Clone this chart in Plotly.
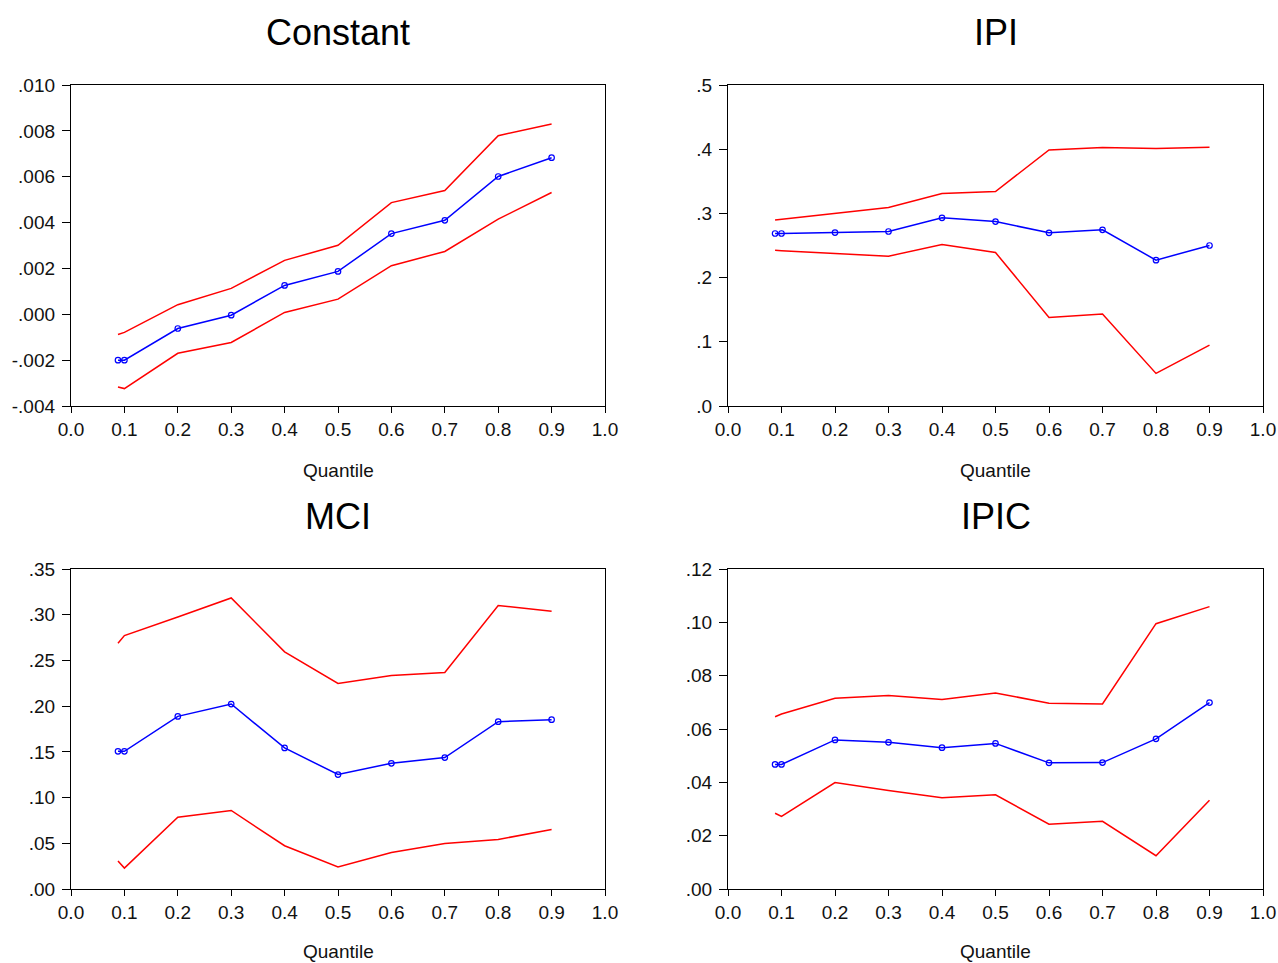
import plotly.graph_objects as go

quantiles = [0.088, 0.1, 0.2, 0.3, 0.4, 0.5, 0.6, 0.7, 0.8, 0.9]
x_ticks = [0.0, 0.1, 0.2, 0.3, 0.4, 0.5, 0.6, 0.7, 0.8, 0.9, 1.0]
x_ticktext = ["0.0", "0.1", "0.2", "0.3", "0.4", "0.5", "0.6", "0.7", "0.8", "0.9", "1.0"]

panel_titles = ["Constant", "IPI", "MCI", "IPIC"]

const_est = [-0.0020, -0.0020, -0.00062, -0.00004, 0.00126, 0.00187, 0.00352, 0.0041, 0.00601, 0.00683]
const_hi = [-0.00088, -0.00079, 0.00042, 0.00113, 0.00235, 0.00301, 0.00487, 0.0054, 0.00779, 0.0083]
const_lo = [-0.00317, -0.00324, -0.0017, -0.00123, 0.00008, 0.00066, 0.00212, 0.00274, 0.00415, 0.00531]
const_yticks = [-0.004, -0.002, 0.0, 0.002, 0.004, 0.006, 0.008, 0.010]
const_yticktext = ["-.004", "-.002", ".000", ".002", ".004", ".006", ".008", ".010"]

ipi_est = [0.2687, 0.2687, 0.2702, 0.2718, 0.2931, 0.2873, 0.2697, 0.2744, 0.2272, 0.2500]
ipi_hi = [0.2899, 0.2910, 0.3003, 0.3091, 0.3309, 0.3340, 0.3989, 0.4025, 0.4010, 0.4030]
ipi_lo = [0.2427, 0.2420, 0.2376, 0.2334, 0.2516, 0.2391, 0.1380, 0.1432, 0.0508, 0.0949]
ipi_yticks = [0.0, 0.1, 0.2, 0.3, 0.4, 0.5]
ipi_yticktext = [".0", ".1", ".2", ".3", ".4", ".5"]

mci_est = [0.1506, 0.1506, 0.1888, 0.2023, 0.1543, 0.1252, 0.1375, 0.1437, 0.1830, 0.1852]
mci_hi = [0.2689, 0.2772, 0.2975, 0.3183, 0.2594, 0.2248, 0.2336, 0.2369, 0.3100, 0.3038]
mci_lo = [0.0306, 0.0229, 0.0786, 0.0859, 0.0473, 0.0240, 0.0400, 0.0498, 0.0542, 0.0651]
mci_yticks = [0.0, 0.05, 0.10, 0.15, 0.20, 0.25, 0.30, 0.35]
mci_yticktext = [".00", ".05", ".10", ".15", ".20", ".25", ".30", ".35"]

ipic_est = [0.0467, 0.0467, 0.0559, 0.0550, 0.0530, 0.0546, 0.0473, 0.0474, 0.0563, 0.0699]
ipic_hi = [0.0646, 0.0656, 0.0715, 0.0726, 0.0711, 0.0735, 0.0697, 0.0694, 0.0995, 0.1059]
ipic_lo = [0.0284, 0.0272, 0.0399, 0.0369, 0.0342, 0.0353, 0.0243, 0.0254, 0.0125, 0.0333]
ipic_yticks = [0.0, 0.02, 0.04, 0.06, 0.08, 0.10, 0.12]
ipic_yticktext = [".00", ".02", ".04", ".06", ".08", ".10", ".12"]

panels = [
    (const_est, const_hi, const_lo, const_yticks, const_yticktext),
    (ipi_est, ipi_hi, ipi_lo, ipi_yticks, ipi_yticktext),
    (mci_est, mci_hi, mci_lo, mci_yticks, mci_yticktext),
    (ipic_est, ipic_hi, ipic_lo, ipic_yticks, ipic_yticktext),
]

W, H = 1278, 963
# pixel frames: (left, right, top, bottom)
frames = [(71, 605, 85, 406), (728, 1263, 85, 406), (71, 605, 569, 889), (728, 1263, 569, 889)]

FONT = "Arial, Liberation Sans, sans-serif"
RED = "rgb(255,0,0)"
BLUE = "rgb(0,0,255)"

fig = go.Figure()
layout = dict(
    width=W, height=H,
    margin=dict(l=0, r=0, t=0, b=0, autoexpand=False),
    paper_bgcolor="white", plot_bgcolor="white",
    showlegend=False,
    font=dict(family=FONT, color="#111111"),
)
annotations = []

for i, (est, hi, lo, yt, ytt) in enumerate(panels):
    n = i + 1
    xa = "x" if n == 1 else f"x{n}"
    ya = "y" if n == 1 else f"y{n}"
    for series, color, mode in [(hi, RED, "lines"), (lo, RED, "lines"), (est, BLUE, "lines+markers")]:
        fig.add_trace(go.Scatter(
            x=quantiles, y=series, mode=mode, xaxis=xa, yaxis=ya,
            line=dict(color=color, width=1.5),
            marker=dict(symbol="circle-open", size=5.5, color=color, line=dict(width=1.2, color=color)),
            hoverinfo="skip", cliponaxis=False,
        ))
    l, r, t, b = frames[i]
    xdom = [l / W, r / W]
    ydom = [1 - b / H, 1 - t / H]
    axis_common = dict(
        showgrid=False, zeroline=False, showline=True, linecolor="black", linewidth=1.3,
        mirror=True, ticks="outside", tickwidth=1, tickcolor="black",
        tickfont=dict(family=FONT, size=19, color="#111111"), automargin=False,
    )
    layout["xaxis" if n == 1 else f"xaxis{n}"] = dict(
        domain=xdom, range=[0, 1], tickvals=x_ticks, ticktext=x_ticktext, ticklen=6,
        anchor=ya, **axis_common)
    layout["yaxis" if n == 1 else f"yaxis{n}"] = dict(
        domain=ydom, range=[yt[0], yt[-1]], tickvals=yt, ticktext=ytt, ticklen=8,
        ticklabelstandoff=3, anchor=xa, **axis_common)
    cx = (l + r) / 2 / W
    annotations.append(dict(
        text=panel_titles[i], x=cx, y=1 - (t - 53) / H, xref="paper", yref="paper",
        xanchor="center", yanchor="middle", showarrow=False,
        font=dict(family=FONT, size=36, color="black")))
    if i < 2:
        q_y, q_anchor = 1 - (b + 64) / H, "middle"
    else:
        q_y, q_anchor = 0.0, "bottom"
    annotations.append(dict(
        text="Quantile", x=cx, y=q_y, xref="paper", yref="paper",
        xanchor="center", yanchor=q_anchor, showarrow=False, borderpad=0,
        font=dict(family=FONT, size=19, color="#111111")))

layout["annotations"] = annotations
fig.update_layout(**layout)
fig.write_html("out.html")
